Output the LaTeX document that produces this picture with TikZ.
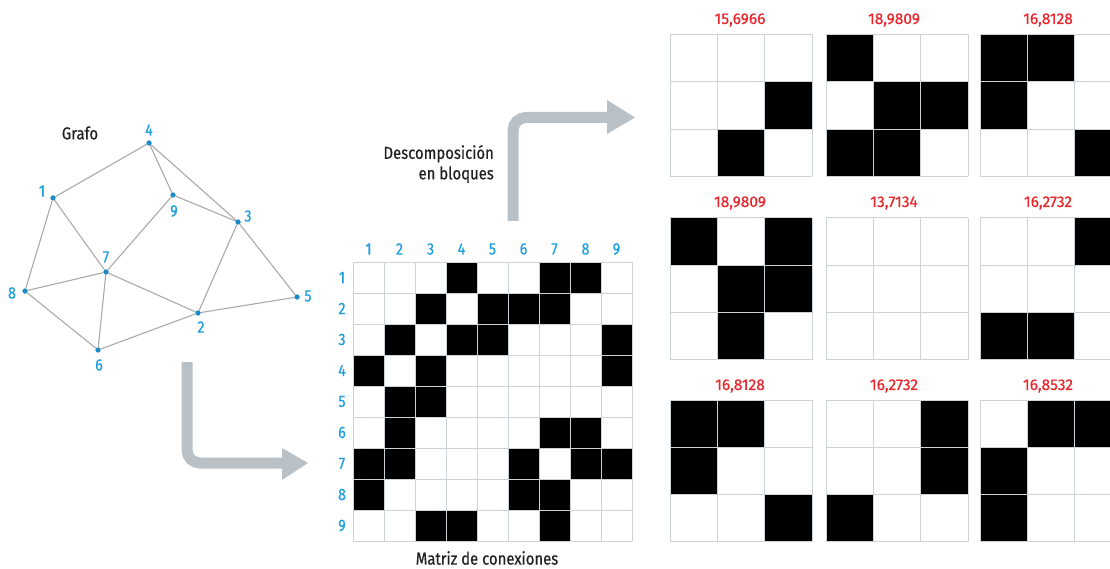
\documentclass[tikz,border=0pt]{standalone}
\usepackage{fontspec}
\setmainfont{Fira Sans}[FakeStretch=0.86,FakeBold=0.5]
\newfontfamily\numfont{Fira Sans}[FakeBold=0.5]
\definecolor{lblue}{HTML}{1E9FDB}
\definecolor{dotblue}{HTML}{1A8CC8}
\definecolor{lred}{HTML}{E8262B}
\definecolor{edgegray}{HTML}{A9A9A9}
\definecolor{gridgray}{HTML}{CDD2D7}
\definecolor{arrowgray}{HTML}{B9C0C6}
\definecolor{txt}{HTML}{231F20}
\tikzset{
  dot/.style={circle,fill=dotblue,inner sep=0pt,minimum size=5pt},
  glbl/.style={text=lblue,inner sep=0pt,font=\fontsize{16.5}{18}\selectfont},
  mlbl/.style={text=lblue,inner sep=0pt,font=\fontsize{16.5}{18}\selectfont},
  rlbl/.style={text=lred,inner sep=0pt,font=\numfont\fontsize{15.5}{17}\selectfont},
  ttl/.style={text=txt,inner sep=0pt,font=\fontsize{17.3}{20.5}\selectfont},
  edge/.style={draw=edgegray,line width=1.1pt},
  grid/.style={draw=gridgray,line width=1pt},
  bigarrow/.style={draw=arrowgray,line width=11pt,rounded corners=13pt},
}
\begin{document}
\begin{tikzpicture}[x=1pt,y=-1pt]
\useasboundingbox (0,0) rectangle (1110,569);
\begin{scope}
\clip (0,0) rectangle (1110,569);

% ---------- Graph ----------
\node[ttl] (grafo) at (80,133) {Grafo};
\node[dot] (n1) at (53,198) {};
\node[dot] (n2) at (198,313) {};
\node[dot] (n3) at (238,222) {};
\node[dot] (n4) at (149,143) {};
\node[dot] (n5) at (297,297) {};
\node[dot] (n6) at (98,350) {};
\node[dot] (n7) at (106,272) {};
\node[dot] (n8) at (25,291) {};
\node[dot] (n9) at (173,195) {};
\foreach \a/\b in {4/1,4/9,4/3,9/3,9/7,1/7,1/8,8/7,8/6,7/6,7/2,6/2,2/3,2/5,3/5}
  \draw[edge] (n\a) -- (n\b);
\foreach \a in {1,...,9} \node[dot] at (n\a) {};
\node[glbl] (l1) at (42,191) {1};
\node[glbl] (l2) at (201,327) {2};
\node[glbl] (l3) at (248,216) {3};
\node[glbl] (l4) at (149,130) {4};
\node[glbl] (l5) at (308,296) {5};
\node[glbl] (l6) at (99,365) {6};
\node[glbl] (l7) at (106,257) {7};
\node[glbl] (l8) at (12,293) {8};
\node[glbl] (l9) at (174,211) {9};

% ---------- Arrows ----------
\coordinate (a1s) at (187,362);
\coordinate (a1c) at (187,463);
\coordinate (a1e) at (283,463);
\draw[bigarrow] (a1s) -- (a1c) -- (a1e);
\fill[arrowgray] (282,448) -- (308,463) -- (282,480) -- cycle;
\coordinate (a2s) at (513,221);
\coordinate (a2c) at (513,117.5);
\coordinate (a2e) at (608,117.5);
\draw[bigarrow] (a2s) -- (a2c) -- (a2e);
\fill[arrowgray] (607,100) -- (635,117.5) -- (607,134) -- cycle;
\node[ttl,align=right,anchor=east] (desc) at (494,164) {Descomposición\\en bloques};

% ---------- Matrix ----------
\def\cells{1/4,1/7,1/8,2/3,2/5,2/6,2/7,3/2,3/4,3/5,3/9,4/1,4/3,4/9,5/2,5/3,6/2,6/7,6/8,7/1,7/2,7/6,7/8,7/9,8/1,8/6,8/7,9/3,9/4,9/7}
\fill[white] (353,262) rectangle (632,541);
\foreach \r/\c in \cells
  \fill[black] (322+31*\c,231+31*\r) rectangle ++(31,31);
\foreach \i in {0,...,9}{
  \draw[grid] (353+31*\i,262) -- (353+31*\i,541);
  \draw[grid] (353,262+31*\i) -- (632,262+31*\i);
}
\foreach \i in {1,...,9}{
  \node[mlbl] (col\i) at (337.5+31*\i,249) {\i};
  \node[mlbl] (row\i) at (342,246.5+31*\i) {\i};
}
\node[ttl] (mtitle) at (487,558) {Matriz de conexiones};

% ---------- Blocks ----------
\def\bs{47.33}
\foreach \r/\c in \cells{
  \pgfmathtruncatemacro\bi{int((\r-1)/3)}
  \pgfmathtruncatemacro\bj{int((\c-1)/3)}
  \pgfmathsetmacro\lx{{670,826,980}[\bj]}
  \pgfmathsetmacro\ty{{34.5,218,400}[\bi]}
  \pgfmathtruncatemacro\li{\r-1-3*\bi}
  \pgfmathtruncatemacro\lj{\c-1-3*\bj}
  \fill[black] (\lx+\bs*\lj,\ty+\bs*\li) rectangle ++(\bs,\bs);
}
\foreach \lx in {670,826,980}
  \foreach \ty in {34.5,218,400}
    \foreach \k in {0,...,3}{
      \draw[grid] (\lx+\bs*\k,\ty) -- (\lx+\bs*\k,\ty+3*\bs);
      \draw[grid] (\lx,\ty+\bs*\k) -- (\lx+3*\bs,\ty+\bs*\k);
    }
\node[rlbl] (v11) at (740,20) {15,6966};
\node[rlbl] (v12) at (894,20) {18,9809};
\node[rlbl] (v13) at (1048,20) {16,8128};
\node[rlbl] (v21) at (740,203) {18,9809};
\node[rlbl] (v22) at (894,203) {13,7134};
\node[rlbl] (v23) at (1048,203) {16,2732};
\node[rlbl] (v31) at (740,386) {16,8128};
\node[rlbl] (v32) at (894,386) {16,2732};
\node[rlbl] (v33) at (1048,386) {16,8532};
\end{scope}
\end{tikzpicture}
\end{document}
